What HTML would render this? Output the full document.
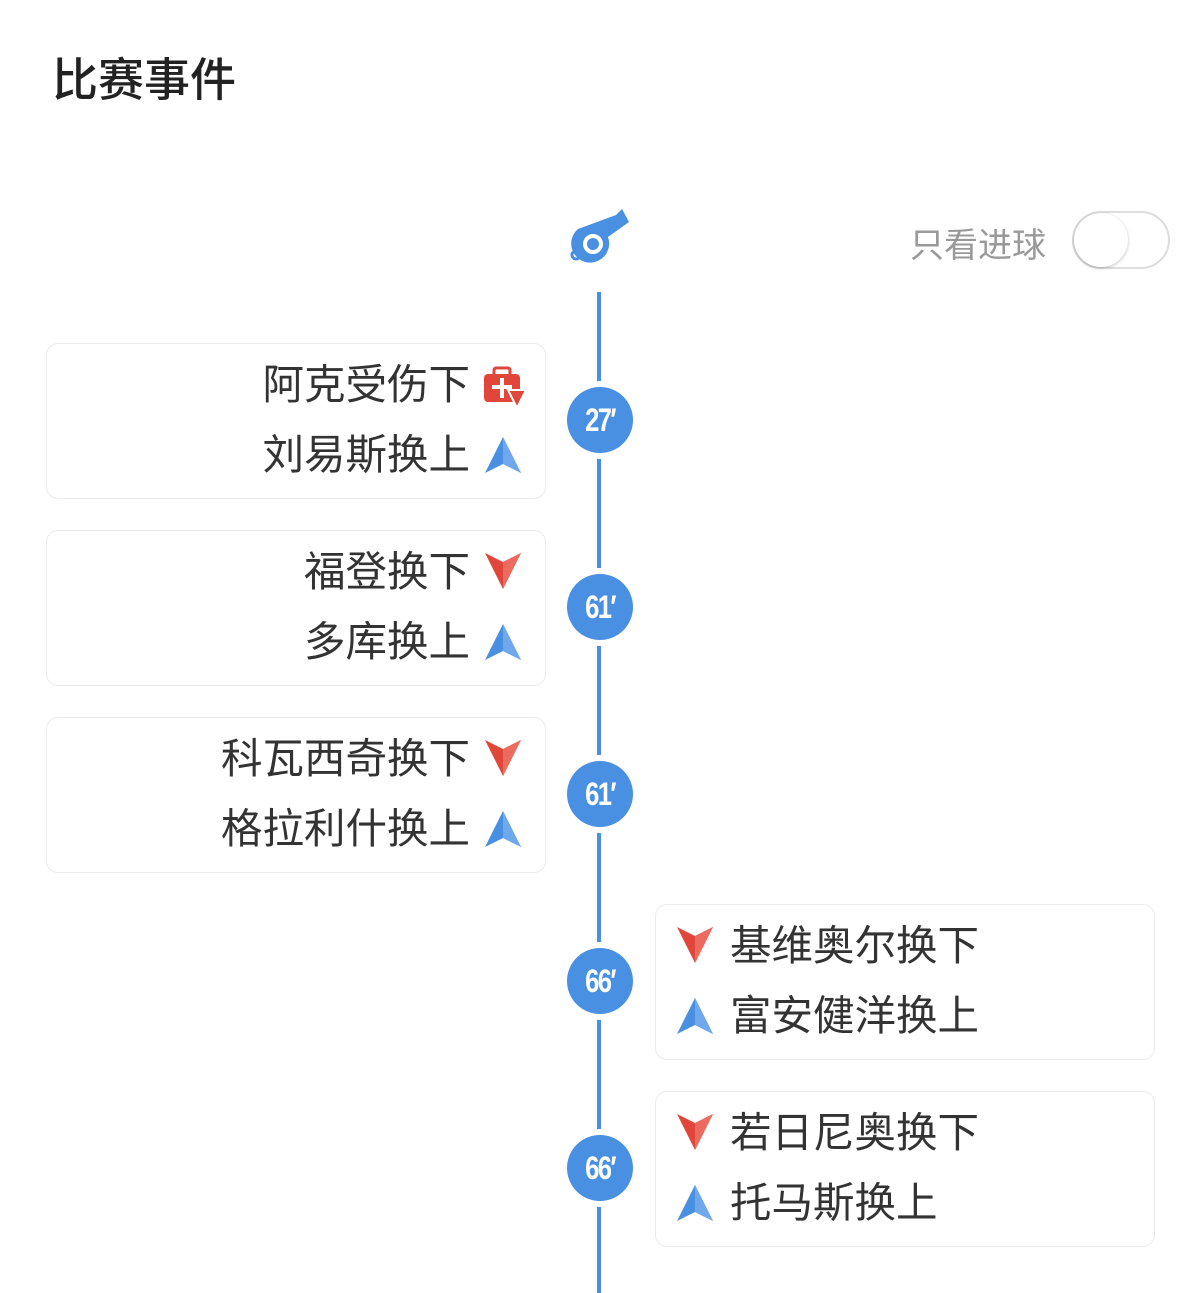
<!DOCTYPE html>
<html><head><meta charset="utf-8"><style>
body{margin:0;width:1200px;height:1293px;background:#fff;position:relative;overflow:hidden;font-family:"Liberation Sans","Noto Sans CJK SC",sans-serif;color:#333}
.a{position:absolute}
.title{left:52px;top:44px;font-size:46px;font-weight:500;color:#222}
.card{position:absolute;width:498px;height:154px;border:1px solid #ececec;border-radius:12px;background:#fff}
.t{position:absolute;font-size:41.5px;line-height:48px;white-space:nowrap;color:#333}
.c{position:absolute;left:567px;width:66px;height:66px;border-radius:50%;background:#4a90e2;box-shadow:0 0 0 6px #fff}
.c span{display:block;color:#fff;font-size:32px;font-weight:bold;text-align:center;line-height:66px;letter-spacing:-2px;transform:scaleX(.8)}
</style></head><body>
<div class="a title">比赛事件</div>
<svg class="a" style="left:568px;top:207px" width="64" height="58" viewBox="0 0 64 58">
<g fill="#4a90e2"><path d="M10 22 L48 8 L54 2 L61 15 L40 30 A19 19 0 1 1 10 22Z"/></g>
<circle cx="8" cy="48" r="4" fill="none" stroke="#4a90e2" stroke-width="3"/>
<circle cx="25" cy="37" r="8" fill="none" stroke="#fff" stroke-width="4"/></svg>
<div class="a" style="left:910px;top:218px;font-size:34px;color:#999">只看进球</div>
<div class="a" style="left:1072px;top:211px;width:94px;height:54px;border:2px solid #ddd;border-radius:30px;background:#fff"></div>
<div class="a" style="left:1074px;top:213px;width:54px;height:54px;border-radius:50%;background:#fff;box-shadow:0 1px 3px rgba(0,0,0,.25)"></div>
<div class="a" style="left:597px;top:292px;width:4px;height:1001px;background:#4a90e2"></div>

<svg width="0" height="0" style="position:absolute"><defs>
<g id="up"><polygon points="18,0 36,36 18,27 0,36" fill="#4a90e2"/><polygon points="18,0 36,36 18,27" fill="#6fa8ec"/></g>
<g id="dn"><polygon points="0,0 18,9 36,0 18,36" fill="#e0473a"/><polygon points="18,9 36,0 18,36" fill="#ec6a5e"/></g>
</defs></svg>

<div class="card" style="left:46px;top:343px"></div>
<div class="t" style="right:730px;top:361px">阿克受伤下</div>
<svg class="a" style="left:482px;top:366px" width="46" height="42"><rect x="2" y="8" width="36" height="28" rx="4" fill="#e0473a"/><rect x="12" y="2" width="16" height="8" rx="2" fill="none" stroke="#e0473a" stroke-width="3"/><rect x="10" y="19" width="20" height="4" fill="#fff"/><rect x="18" y="12" width="4" height="20" fill="#fff"/><polygon points="26,24 44,24 35,42" fill="#e0473a" stroke="#fff" stroke-width="2"/></svg>
<div class="t" style="right:730px;top:431px">刘易斯换上</div>
<svg class="a" style="left:485px;top:437px" width="36" height="36"><use href="#up"/></svg>
<div class="c" style="top:387px"><span>27′</span></div>

<div class="card" style="left:46px;top:530px"></div>
<div class="t" style="right:730px;top:548px">福登换下</div>
<svg class="a" style="left:485px;top:553px" width="36" height="36"><use href="#dn"/></svg>
<div class="t" style="right:730px;top:618px">多库换上</div>
<svg class="a" style="left:485px;top:624px" width="36" height="36"><use href="#up"/></svg>
<div class="c" style="top:574px"><span>61′</span></div>

<div class="card" style="left:46px;top:717px"></div>
<div class="t" style="right:730px;top:735px">科瓦西奇换下</div>
<svg class="a" style="left:485px;top:740px" width="36" height="36"><use href="#dn"/></svg>
<div class="t" style="right:730px;top:805px">格拉利什换上</div>
<svg class="a" style="left:485px;top:811px" width="36" height="36"><use href="#up"/></svg>
<div class="c" style="top:761px"><span>61′</span></div>

<div class="card" style="left:655px;top:904px"></div>
<svg class="a" style="left:677px;top:927px" width="36" height="36"><use href="#dn"/></svg>
<div class="t" style="left:730px;top:922px">基维奥尔换下</div>
<svg class="a" style="left:677px;top:998px" width="36" height="36"><use href="#up"/></svg>
<div class="t" style="left:730px;top:992px">富安健洋换上</div>
<div class="c" style="top:948px"><span>66′</span></div>

<div class="card" style="left:655px;top:1091px"></div>
<svg class="a" style="left:677px;top:1114px" width="36" height="36"><use href="#dn"/></svg>
<div class="t" style="left:730px;top:1109px">若日尼奥换下</div>
<svg class="a" style="left:677px;top:1185px" width="36" height="36"><use href="#up"/></svg>
<div class="t" style="left:730px;top:1179px">托马斯换上</div>
<div class="c" style="top:1135px"><span>66′</span></div>
</body></html>
